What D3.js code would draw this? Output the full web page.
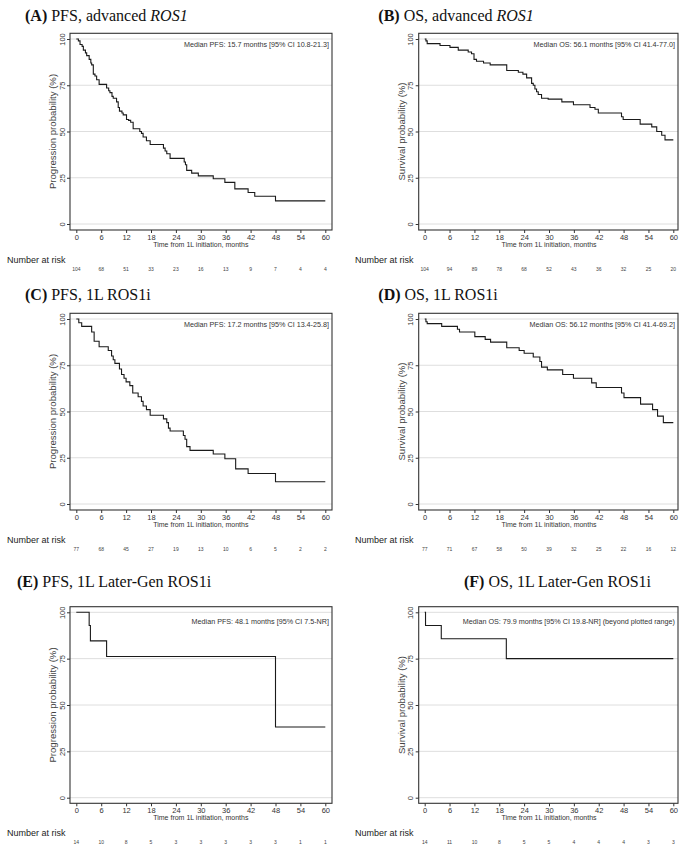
<!DOCTYPE html>
<html>
<head>
<meta charset="utf-8">
<script src="https://cdn.jsdelivr.net/npm/d3@7"></script>
<style>
  body { margin: 0; background: #fff; }
  text { font-family: "Liberation Sans", Arial, sans-serif; }
  .title { font-family: "Liberation Serif", "Times New Roman", serif; font-size: 16px; fill: #111; }
</style>
</head>
<body>
<svg id="chart" width="685" height="845"></svg>
<script>
// ticks
var monthTicks = [0, 6, 12, 18, 24, 30, 36, 42, 48, 54, 60];
var probTicks = [0, 25, 50, 75, 100];

// Kaplan-Meier steps: [month, probability %]
var pfsAdvanced = [[0,100],[0.5,99],[0.9,97],[1.4,96],[1.7,94],[2.2,92.5],[2.5,91],[3.1,89],[3.5,87],[3.7,86],
  [4.1,81],[4.5,80],[4.9,78],[5.5,75.5],[7.3,73.5],[7.8,72],[8.1,71],[8.6,69],[8.9,68],[9.7,66],[10.1,63],
  [10.4,61],[11.0,60],[11.3,59],[12.1,56.5],[12.6,56],[13.1,55],[13.7,51.5],[15.3,50],[15.7,49],[16.1,47],
  [16.9,45],[17.8,43],[21.0,41],[21.4,39.5],[21.8,38],[22.6,35.5],[26.0,33.5],[26.3,32],[26.6,29],[27.8,27.5],
  [29.4,26],[33.0,24.5],[35.8,22.5],[38.2,19],[41.4,17],[43.0,15],[48.0,12.5]];
var osAdvanced = [[0,100],[0.3,99],[0.6,97.5],[3.7,96.5],[6.1,95.5],[8.1,94],[10.5,93],[11.3,92],[11.9,89],
  [12.5,88],[14.2,87],[15.8,86],[19.8,83],[22.6,82],[23.7,81],[24.6,79],[25.8,76],[26.2,75],[26.6,73],
  [27.0,71.5],[27.4,70],[28.2,68],[29.8,67.5],[33.1,66],[35.9,64.5],[39.9,63],[41.1,62],[41.9,60],[47.5,58],
  [47.9,56.5],[52.0,54],[54.8,52.5],[56.0,50],[57.2,48],[58.0,45.5]];
var pfsRos1i = [[0,100],[0.6,98],[1.3,96],[3.7,93],[4.3,88],[5.5,85],[7.7,83],[8.5,80],[8.9,78],[9.3,76],
  [10.4,73],[10.9,70],[11.5,68],[12.0,66],[12.9,64],[13.6,60],[14.9,58],[15.7,55.5],[16.1,53],[16.9,51],
  [17.8,48],[21.0,46],[21.8,44],[22.2,41],[22.6,39.5],[25.8,37],[26.2,35],[26.6,31],[27.4,29],[33.0,27],
  [35.8,24.5],[38.4,19],[41.4,16.5],[48.0,12]];
var osRos1i = [[0,100],[0.3,98.5],[0.6,97.5],[4.1,96],[7.9,94.5],[8.4,93],[12.1,90.5],[14.6,89],[15.9,87.5],
  [19.8,84.5],[22.8,83],[24.0,81.5],[26.2,79.5],[27.8,77],[28.2,74],[29.6,72.5],[33.3,70],[35.9,68],
  [40.3,65.5],[41.4,63],[47.5,60],[48.1,57.5],[52.1,54],[55.0,51],[56.2,47.5],[57.6,44]];
var pfsLaterGen = [[0,100],[3.1,92.9],[3.4,84.6],[7.3,76.2],[48.0,38.1]];
var osLaterGen = [[0,100],[0.2,92.9],[4.0,85.7],[19.7,75]];

// number at risk at each month tick
var riskPfsAdvanced = [104, 68, 51, 33, 23, 16, 13, 9, 7, 4, 4];
var riskOsAdvanced = [104, 94, 89, 78, 68, 52, 43, 36, 32, 25, 20];
var riskPfsRos1i = [77, 68, 45, 27, 19, 13, 10, 6, 5, 2, 2];
var riskOsRos1i = [77, 71, 67, 58, 50, 39, 32, 25, 22, 16, 12];
var riskPfsLaterGen = [14, 10, 8, 5, 3, 3, 3, 3, 3, 1, 1];
var riskOsLaterGen = [14, 11, 10, 8, 5, 5, 4, 4, 4, 3, 3];

// texts
var titleParts = [
  [["(A)", "b"], [" PFS, advanced ", ""], ["ROS1", "i"]],
  [["(B)", "b"], [" OS, advanced ", ""], ["ROS1", "i"]],
  [["(C)", "b"], [" PFS, 1L ROS1i", ""]],
  [["(D)", "b"], [" OS, 1L ROS1i", ""]],
  [["(E)", "b"], [" PFS, 1L Later-Gen ROS1i", ""]],
  [["(F)", "b"], [" OS, 1L Later-Gen ROS1i", ""]]
];
var medianLabels = [
  "Median PFS: 15.7 months [95% CI 10.8-21.3]",
  "Median OS: 56.1 months [95% CI 41.4-77.0]",
  "Median PFS: 17.2 months [95% CI 13.4-25.8]",
  "Median OS: 56.12 months [95% CI 41.4-69.2]",
  "Median PFS: 48.1 months [95% CI 7.5-NR]",
  "Median OS: 79.9 months [95% CI 19.8-NR] (beyond plotted range)"
];
var yTitles = ["Progression probability (%)", "Survival probability (%)"];
var xTitle = "Time from 1L initiation, months";
var riskTitle = "Number at risk";

var curves = [pfsAdvanced, osAdvanced, pfsRos1i, osRos1i, pfsLaterGen, osLaterGen];
var risks = [riskPfsAdvanced, riskOsAdvanced, riskPfsRos1i, riskOsRos1i, riskPfsLaterGen, riskOsLaterGen];

// layout (pixels)
var cols = [
  {boxL: 70, boxR: 332, x0: 76.3, x60: 325.3, labX: 53, tickLabX: 62, riskX: 7, medR: 329},
  {boxL: 418.7, boxR: 678, x0: 424.7, x60: 673.3, labX: 402, tickLabX: 410.7, riskX: 355, medR: 675}
];
var rows = [
  {boxT: 33.3, boxB: 230, y100: 39, y0: 224, titleY: 20.5, medY: 47},
  {boxT: 313.3, boxB: 510, y100: 319, y0: 504, titleY: 299.5, medY: 327},
  {boxT: 606.7, boxB: 803.3, y100: 612.3, y0: 797.7, titleY: 587, medY: 623.5}
];
var titleX = [25, 378.3, 25, 378.3, 17, 464];

var svg = d3.select("#chart");

for (var i = 0; i < 6; i++) {
  var c = cols[i % 2], r = rows[Math.floor(i / 2)];
  var x = d3.scaleLinear().domain([0, 60]).range([c.x0, c.x60]);
  var y = d3.scaleLinear().domain([0, 100]).range([r.y0, r.y100]);
  var g = svg.append("g");

  // title
  var t = g.append("text").attr("class", "title").attr("x", titleX[i]).attr("y", r.titleY);
  titleParts[i].forEach(function(p) {
    t.append("tspan").text(p[0])
      .attr("font-weight", p[1] == "b" ? "bold" : null)
      .attr("font-style", p[1] == "i" ? "italic" : null);
  });

  // gridlines
  g.selectAll(".grid").data(probTicks).enter().append("line")
    .attr("x1", c.boxL).attr("x2", c.boxR)
    .attr("y1", function(d) { return y(d); }).attr("y2", function(d) { return y(d); })
    .attr("stroke", "#dedede").attr("stroke-width", 1);

  // box
  g.append("rect").attr("x", c.boxL).attr("y", r.boxT)
    .attr("width", c.boxR - c.boxL).attr("height", r.boxB - r.boxT)
    .attr("fill", "none").attr("stroke", "#333").attr("stroke-width", 1.1);

  // x axis
  var xa = g.append("g").attr("transform", "translate(0," + r.boxB + ")")
    .call(d3.axisBottom(x).tickValues(monthTicks).tickSize(3).tickPadding(1.5));
  xa.select(".domain").remove();
  xa.selectAll("line").attr("stroke", "#333");
  xa.selectAll("text").attr("font-size", "7.5px").attr("font-family", null).attr("fill", "#333");

  // y axis
  var ya = g.append("g").attr("transform", "translate(" + c.boxL + ",0)")
    .call(d3.axisLeft(y).tickValues(probTicks).tickSize(3).tickFormat(d3.format("d")));
  ya.select(".domain").remove();
  ya.selectAll("line").attr("stroke", "#333");
  ya.selectAll("text").attr("font-size", "7.5px").attr("font-family", null).attr("fill", "#333")
    .attr("x", null).attr("dy", null).attr("text-anchor", "middle")
    .attr("transform", "translate(" + (c.tickLabX - c.boxL + 2.5) + ",0) rotate(-90)");

  // axis titles
  g.append("text").attr("x", (c.x0 + c.x60) / 2).attr("y", r.boxB + 17)
    .attr("text-anchor", "middle").attr("font-size", "7px").attr("fill", "#333").text(xTitle);
  g.append("text").attr("text-anchor", "middle").attr("font-size", "9.6px").attr("fill", "#444")
    .attr("transform", "translate(" + (c.labX + 3) + "," + ((r.y0 + r.y100) / 2) + ") rotate(-90)")
    .text(yTitles[i % 2]);

  // median annotation
  g.append("text").attr("x", c.medR).attr("y", r.medY).attr("text-anchor", "end")
    .attr("font-size", "7.2px").attr("fill", "#333").text(medianLabels[i]);

  // KM step curve
  var pts = curves[i].concat([[60, curves[i][curves[i].length - 1][1]]]);
  g.append("path").datum(pts)
    .attr("d", d3.line().x(function(d) { return x(d[0]); }).y(function(d) { return y(d[1]); })
      .curve(d3.curveStepAfter))
    .attr("fill", "none").attr("stroke", "#1a1a1a").attr("stroke-width", 1.1);

  // number at risk
  g.append("text").attr("x", c.riskX).attr("y", r.boxB + 33)
    .attr("font-size", "9px").attr("fill", "#222").text(riskTitle);
  g.selectAll(".risk").data(risks[i]).enter().append("text")
    .attr("x", function(d, k) { return x(monthTicks[k]); }).attr("y", r.boxB + 41)
    .attr("text-anchor", "middle").attr("font-size", "5px").attr("fill", "#444")
    .text(function(d) { return d; });
}
</script>
</body>
</html>
